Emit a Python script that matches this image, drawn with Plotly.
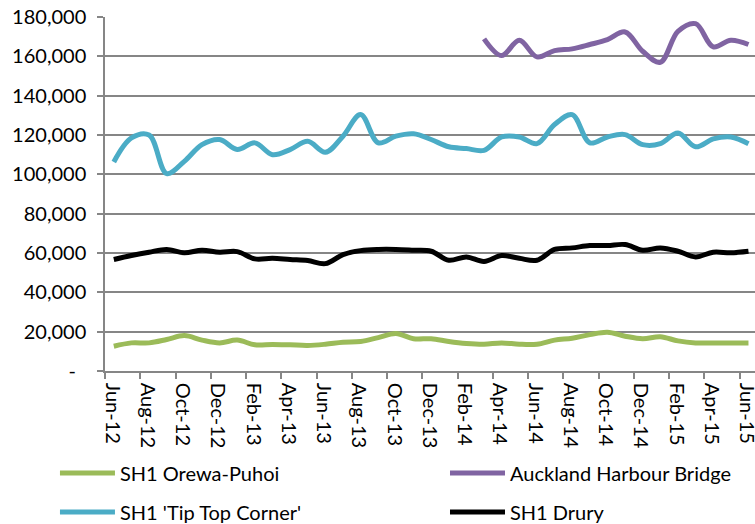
import plotly.graph_objects as go

months = ["Jun-12", "Jul-12", "Aug-12", "Sep-12", "Oct-12", "Nov-12", "Dec-12",
          "Jan-13", "Feb-13", "Mar-13", "Apr-13", "May-13", "Jun-13", "Jul-13",
          "Aug-13", "Sep-13", "Oct-13", "Nov-13", "Dec-13", "Jan-14", "Feb-14",
          "Mar-14", "Apr-14", "May-14", "Jun-14", "Jul-14", "Aug-14", "Sep-14",
          "Oct-14", "Nov-14", "Dec-14", "Jan-15", "Feb-15", "Mar-15", "Apr-15",
          "May-15", "Jun-15"]

orewa_puhoi = [12600, 14300, 14300, 16000, 18000, 15700, 14300, 15700, 13300, 13500,
               13300, 13000, 13600, 14600, 15000, 17000, 19100, 16400, 16400, 15000,
               14000, 13600, 14300, 13600, 13600, 15700, 16700, 18500, 19700, 17700,
               16400, 17400, 15300, 14300, 14300, 14300, 14300]

harbour_bridge = [None] * 21 + [168900, 160400, 168200, 159700, 162900, 163800, 166000,
                                168500, 172400, 162600, 157000, 172700, 176600, 164800,
                                168200, 166000]

tip_top = [106300, 118500, 120000, 100400, 106600, 115100, 117700, 112600, 116000, 110000,
           112600, 116800, 111200, 119400, 130400, 116000, 119400, 120600, 117700, 114000,
           113100, 112200, 119000, 119000, 115600, 125300, 130400, 116000, 119000, 120200,
           115100, 115600, 121000, 114000, 118000, 119000, 115600]

drury = [56700, 58700, 60400, 61800, 60100, 61400, 60400, 60700, 57000, 57300,
         56700, 56200, 54600, 59200, 61200, 61800, 61800, 61400, 60900, 56300,
         58000, 55700, 58700, 57300, 56300, 61800, 62600, 63800, 63800, 64300,
         61400, 62600, 60900, 58000, 60400, 60100, 60900]

series_names = ["SH1 Orewa-Puhoi", "Auckland Harbour Bridge", "SH1 'Tip Top Corner'", "SH1 Drury"]
series_values = [orewa_puhoi, harbour_bridge, tip_top, drury]
series_colors = ["#9BBB59", "#8064A2", "#4BACC6", "#000000"]
series_legend = ["legend", "legend2", "legend3", "legend4"]
# legend slot positions (container fraction): column x, row y
legend_pos = {"legend": (0.0728, 0.0973), "legend2": (0.5894, 0.0973),
              "legend3": (0.0728, 0.0229), "legend4": (0.5894, 0.0229)}

y_ticks = list(range(0, 180001, 20000))
y_ticktext = ["-\u00a0\u00a0"] + [f"{v:,}" for v in y_ticks[1:]]

FONT = "Lato"
FS = 20
GRID = "#868686"

fig = go.Figure()
for name, vals, col, lg in zip(series_names, series_values, series_colors, series_legend):
    fig.add_trace(go.Scatter(
        x=months, y=vals, name=name, mode="lines",
        line=dict(color=col, width=5, shape="spline", smoothing=1.0),
        connectgaps=False, legend=lg,
    ))

legends = {}
for lg, (lx, ly) in legend_pos.items():
    legends[lg] = dict(orientation="h", xref="container", yref="container",
                       x=lx, y=ly, xanchor="left", yanchor="middle",
                       itemwidth=55, font=dict(family=FONT, size=FS),
                       bgcolor="rgba(0,0,0,0)")

fig.update_layout(
    width=755, height=524,
    margin=dict(l=105, r=0, t=17, b=153, autoexpand=False),
    paper_bgcolor="white", plot_bgcolor="white",
    font=dict(family=FONT, size=FS, color="#000000"),
    showlegend=True,
    **legends,
)

fig.update_xaxes(
    type="category", range=[-0.5, 36.37],
    tickmode="array",
    tickvals=[i - 0.5 for i in range(0, len(months), 2)],
    ticktext=months[::2],
    tickangle=90, ticklabelshift=7,
    ticks="outside", ticklen=6, tickcolor=GRID, tickwidth=1.5,
    showline=True, linecolor=GRID, linewidth=1.5,
    showgrid=False, zeroline=False, automargin=False,
    tickfont=dict(family=FONT, size=FS),
)
fig.update_yaxes(
    range=[0, 180000],
    tickmode="array", tickvals=y_ticks, ticktext=y_ticktext,
    ticks="outside", ticklen=6, tickcolor=GRID, tickwidth=1.5,
    ticklabelstandoff=7,
    showline=True, linecolor=GRID, linewidth=1.5,
    showgrid=True, gridcolor=GRID, gridwidth=1.5,
    zeroline=False, automargin=False,
    tickfont=dict(family=FONT, size=FS),
)

fig.write_html("out.html",
               config={"displayModeBar": False},
               post_script="document.body.style.margin='0px';document.body.style.padding='0px';")
